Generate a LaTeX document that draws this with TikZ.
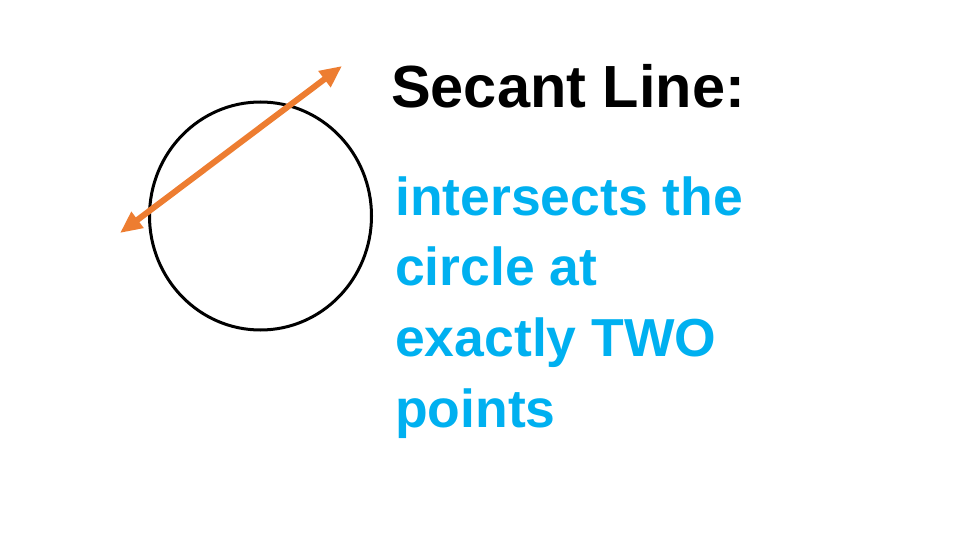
\documentclass[tikz,border=0pt]{standalone}
\usepackage{fontspec}
\setmainfont{Liberation Sans}
\usetikzlibrary{arrows.meta,shapes.geometric}
\definecolor{secorange}{RGB}{237,125,49}
\definecolor{secblue}{RGB}{0,176,240}
\tikzset{
  ring/.style={ellipse, draw=black, line width=3pt, minimum width=222pt, minimum height=228pt, inner sep=0pt},
  secant/.style={draw=secorange, line width=6pt, {Triangle[length=22pt,width=19pt]}-{Triangle[length=22pt,width=19pt]}},
  title/.style={anchor=base west, inner sep=0pt, font=\fontsize{59.5}{59.5}\selectfont\bfseries, text=black},
  desc/.style={anchor=base west, inner sep=0pt, font=\fontsize{53.5}{53.5}\selectfont\bfseries, text=secblue}
}
\begin{document}
\begin{tikzpicture}[x=1pt,y=-1pt]
\useasboundingbox (0,0) rectangle (960,540);
\node[ring] (circ) at (260.5,216) {};
\coordinate (endA) at (120,233);
\coordinate (endB) at (342,66);
\draw[secant] (endA) -- (endB);
\node[title] (head) at (391,108) {Secant Line:};
\node[desc] (l1) at (395,215) {intersects the};
\node[desc] (l2) at (395,285.7) {circle at};
\node[desc] (l3) at (395,356.4) {exactly TWO};
\node[desc] (l4) at (395,427) {points};
\end{tikzpicture}
\end{document}
